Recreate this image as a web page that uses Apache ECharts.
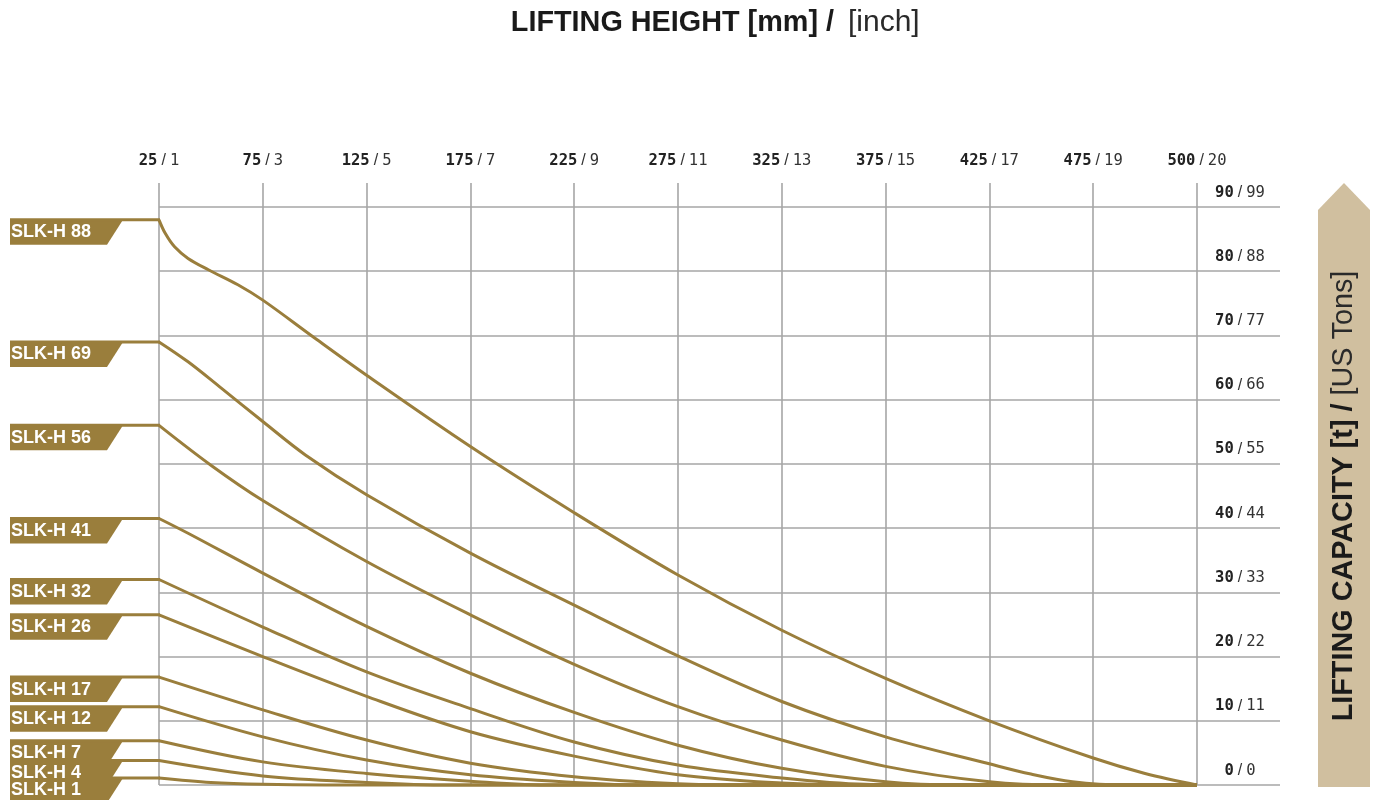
<!DOCTYPE html>
<html>
<head>
<meta charset="utf-8">
<script src="https://cdn.jsdelivr.net/npm/echarts@6/dist/echarts.min.js"></script>
<style>
html, body { margin: 0; padding: 0; background: #fff; }
#main { width: 1376px; height: 800px; }
</style>
</head>
<body>
<div id="main"></div>
<script>
// x positions are column indexes: 0 = 25 mm ... 10 = 500 mm
var heightMm = [25, 75, 125, 175, 225, 275, 325, 375, 425, 475, 500];
var heightInch = [1, 3, 5, 7, 9, 11, 13, 15, 17, 19, 20];
var capTonnes = [0, 10, 20, 30, 40, 50, 60, 70, 80, 90];
var capUsTons = [0, 11, 22, 33, 44, 55, 66, 77, 88, 99];

var models = ['SLK-H 88', 'SLK-H 69', 'SLK-H 56', 'SLK-H 41', 'SLK-H 32', 'SLK-H 26',
              'SLK-H 17', 'SLK-H 12', 'SLK-H 7', 'SLK-H 4', 'SLK-H 1'];
var startCap = [88, 69, 56, 41.5, 32, 26.5, 16.8, 12.2, 6.9, 3.8, 1.1];

var slkH88 = [[0, 88], [0.06, 85.9], [0.15, 83.8], [0.28, 82], [0.48, 80.2], [0.76, 77.9], [1, 75.5],
              [1.5, 69.6], [2, 63.8], [3, 52.7], [4, 42.4], [5, 32.7], [6, 24.1], [7, 16.6], [8, 10],
              [9, 4.2], [9.5, 1.8], [10, 0]];
var slkH69 = [[0, 69], [0.28, 65.9], [0.6, 61.8], [1, 56.6], [1.41, 51.4], [2, 45.2], [3, 36.1], [4, 28],
              [5, 20.1], [6, 13], [7, 7.5], [8, 3.3], [8.4, 1.7], [8.8, 0.5], [9.3, 0], [10, 0]];
var slkH56 = [[0, 56], [0.5, 49.8], [1, 44.3], [2, 34.8], [3, 26.5], [4, 18.8], [5, 12.2],
              [6, 7], [7, 2.9], [8, 0.5], [8.7, 0], [10, 0]];
var slkH41 = [[0, 41.5], [0.28, 39.2], [1, 33], [2, 24.7], [3, 17.4], [4, 11.3], [5, 6.2], [6, 2.6],
              [7, 0.5], [7.7, 0], [10, 0]];
var slkH32 = [[0, 32], [1, 24.6], [2, 17.6], [3, 11.9], [4, 6.7], [5, 3.1], [6, 1.1], [6.8, 0.1], [7.4, 0], [10, 0]];
var slkH26 = [[0, 26.5], [1, 20], [2, 13.8], [3, 8.3], [4, 4.5], [5, 1.6], [6, 0.3], [6.7, 0], [10, 0]];
var slkH17 = [[0, 16.8], [1, 11.7], [2, 7], [3, 3.4], [4, 1.3], [5, 0.2], [5.6, 0], [10, 0]];
var slkH12 = [[0, 12.2], [1, 7.5], [2, 3.9], [3, 1.6], [4, 0.4], [4.7, 0], [10, 0]];
var slkH7 = [[0, 6.9], [1, 3.6], [2, 1.8], [3, 0.6], [3.8, 0], [10, 0]];
var slkH4 = [[0, 3.8], [1, 1.4], [2, 0.4], [2.8, 0], [10, 0]];
var slkH1 = [[0, 1.1], [0.5, 0.4], [1, 0.1], [1.6, 0], [10, 0]];

var curves = [slkH88, slkH69, slkH56, slkH41, slkH32, slkH26, slkH17, slkH12, slkH7, slkH4, slkH1];

var GOLD = '#9a7e3c';
var GRID = '#a6a6a6';
var MONO = '"DejaVu Sans Mono", "Liberation Mono", monospace';
var SANS = '"Liberation Sans", Arial, sans-serif';

var labelRich = {
    b: { fontFamily: MONO, fontWeight: 'bold', fontSize: 15.5, color: '#222', lineHeight: 17 },
    s: { fontFamily: SANS, fontSize: 16, color: '#333', lineHeight: 17, padding: [0, 4, 0, 4] },
    n: { fontFamily: MONO, fontSize: 15.5, color: '#333', lineHeight: 17 }
};

var chart = echarts.init(document.getElementById('main'));

var series = curves.map(function (d, i) {
    return {
        name: models[i],
        type: 'line',
        data: d,
        smooth: 0.35,
        showSymbol: false,
        clip: false,
        silent: true,
        z: 3,
        lineStyle: { color: GOLD, width: 3 }
    };
});

var tagData = startCap.map(function (v) { return [0, v]; });

// model tags on the left, fixed to each curve's start capacity
series.push({
    type: 'custom',
    name: 'tags',
    silent: true,
    clip: false,
    z: 4,
    data: tagData,
    renderItem: function (params, api) {
        var p = api.coord([api.value(0), api.value(1)]);
        var x = p[0], y = p[1];
        return {
            type: 'group',
            children: [
                {
                    type: 'polygon',
                    shape: { points: [[x - 149, y], [x - 36, y], [x - 52, y + 25], [x - 149, y + 25]] },
                    style: { fill: GOLD }
                },
                {
                    type: 'line',
                    shape: { x1: x - 149, y1: y, x2: x + 1, y2: y },
                    style: { stroke: GOLD, lineWidth: 3 }
                }
            ]
        };
    }
});

// tag names, drawn above every tag
series.push({
    type: 'custom',
    name: 'tagNames',
    silent: true,
    clip: false,
    z: 5,
    data: tagData,
    renderItem: function (params, api) {
        var p = api.coord([api.value(0), api.value(1)]);
        return {
            type: 'text',
            x: p[0] - 148,
            y: p[1] + 12.5,
            style: {
                text: models[params.dataIndex],
                fill: '#fff',
                font: 'bold 18px ' + SANS,
                verticalAlign: 'middle'
            }
        };
    }
});

chart.setOption({
    animation: false,
    grid: { left: 159, right: 96, top: 183, bottom: 15 },
    xAxis: {
        type: 'value',
        position: 'top',
        min: 0,
        max: 10.8,
        interval: 1,
        axisLine: { show: false },
        axisTick: { show: false },
        axisLabel: {
            margin: 14,
            showMaxLabel: false,
            formatter: function (v) {
                var i = Math.round(v);
                if (Math.abs(v - i) > 1e-6 || i > 10) return '';
                return '{b|' + heightMm[i] + '}{s|/}{n|' + heightInch[i] + '}';
            },
            rich: labelRich
        },
        splitLine: { show: true, showMaxLine: false, lineStyle: { color: GRID, width: 1.6 } }
    },
    yAxis: {
        type: 'value',
        position: 'right',
        offset: -83,
        min: 0,
        max: 93.74,
        interval: 10,
        axisLine: { show: false },
        axisTick: { show: false },
        axisLabel: {
            margin: 43,
            align: 'center',
            verticalAlign: 'bottom',
            padding: [0, 0, 6, 0],
            showMaxLabel: false,
            formatter: function (v) {
                var i = Math.round(v / 10);
                if (Math.abs(v - i * 10) > 1e-6 || i > 9) return '';
                return '{b|' + capTonnes[i] + '}{s|/}{n|' + capUsTons[i] + '}';
            },
            rich: labelRich
        },
        splitLine: { show: true, showMaxLine: false, lineStyle: { color: GRID, width: 1.6 } }
    },
    graphic: [
        {
            type: 'text', x: 834, y: 23, scaleX: 0.96,
            style: { text: 'LIFTING HEIGHT [mm] /', font: 'bold 30px ' + SANS, fill: '#1a1a1a',
                     align: 'right', verticalAlign: 'middle' }
        },
        {
            type: 'text', x: 848, y: 23, scaleX: 1.0,
            style: { text: '[inch]', font: '30px ' + SANS, fill: '#2a2a2a',
                     align: 'left', verticalAlign: 'middle' }
        },
        {
            type: 'polygon',
            shape: { points: [[1344, 183], [1370, 210], [1370, 787], [1318, 787], [1318, 210]] },
            style: { fill: '#d0bf9f' }
        },
        {
            type: 'text', x: 1344, y: 496, rotation: Math.PI / 2, scaleX: 0.96,
            style: {
                text: '{b|LIFTING CAPACITY [t] / }{n|[US Tons]}',
                align: 'center', verticalAlign: 'middle',
                rich: {
                    b: { font: 'bold 30px ' + SANS, fill: '#1a1a1a' },
                    n: { font: '30px ' + SANS, fill: '#2a2a2a' }
                }
            }
        }
    ],
    series: series
});
</script>
</body>
</html>
